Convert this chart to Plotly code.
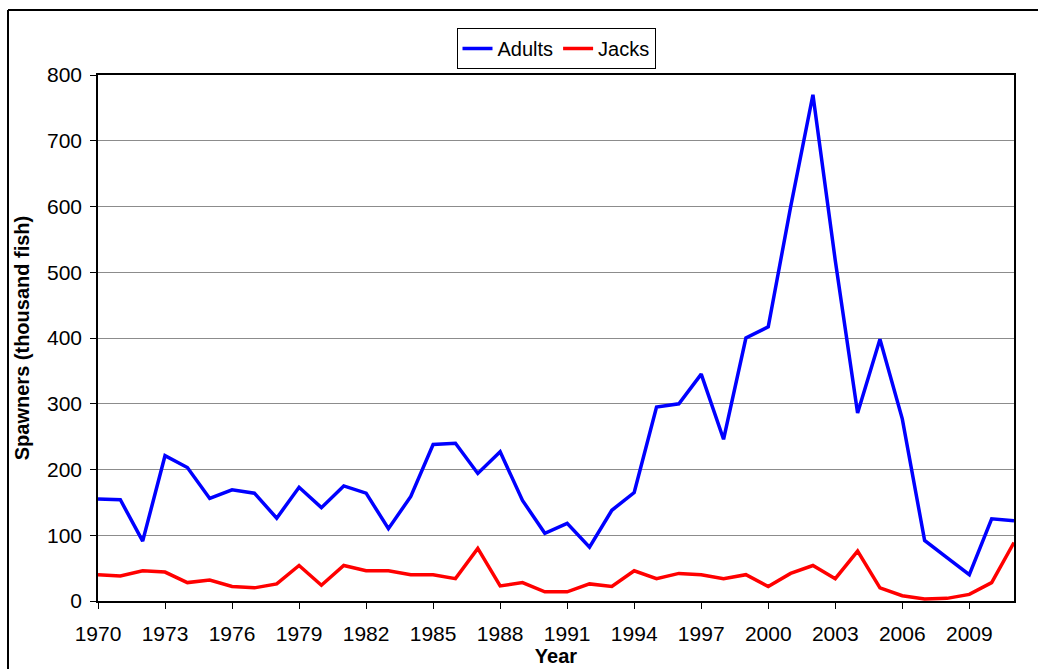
import plotly.graph_objects as go

years = list(range(1970, 2012))
adults = [155, 154, 91, 221, 203, 156, 169, 164, 126, 173, 142, 175, 164, 110, 159, 238,
          240, 194, 227, 153, 103, 118, 82, 138, 165, 295, 300, 345, 246, 400,
          417, 599, 770, 518, 286, 398, 277, 92, 66, 40, 125, 122]
jacks = [40, 38, 46, 44, 28, 32, 22, 20, 26, 54, 24, 54, 46, 46, 40, 40,
         34, 80, 23, 28, 14, 14, 26, 22, 46, 34, 42, 40, 34, 40,
         22, 42, 54, 34, 76, 20, 8, 3, 4, 10, 28, 89]
xticks = list(range(1970, 2010, 3))
yticks = list(range(0, 801, 100))

W, H = 1038, 669
L, R, T, B = 98, 1014, 75, 601

fig = go.Figure()
fig.add_trace(go.Scatter(x=years, y=adults, mode="lines", name="Adults",
                         line=dict(color="#0000FF", width=3.5)))
fig.add_trace(go.Scatter(x=years, y=jacks, mode="lines", name="Jacks",
                         line=dict(color="#FF0000", width=3.5)))

font = "Liberation Sans, Arial, sans-serif"
fig.update_layout(
    width=W, height=H,
    margin=dict(l=L, r=W - R, t=T, b=H - B, pad=0, autoexpand=False),
    paper_bgcolor="white", plot_bgcolor="white",
    font=dict(family=font, size=21, color="black"),
    showlegend=True,
    legend=dict(orientation="h", x=0.5, xanchor="center",
                y=(B - 28) / (B - T), yanchor="top",
                bordercolor="black", borderwidth=1, bgcolor="white",
                font=dict(size=20), itemwidth=30, tracegroupgap=0),
    xaxis=dict(range=[1970, 2011], tickvals=xticks, ticktext=[str(v) for v in xticks],
               showgrid=False, zeroline=False, showline=True, linecolor="black",
               linewidth=1.5, mirror=True, ticks="outside", ticklen=6,
               tickcolor="black", ticklabelstandoff=7, automargin=False,
               title=dict(text="<b>Year</b>", font=dict(size=20), standoff=0)),
    yaxis=dict(range=[0, 800], tickvals=yticks, showgrid=True, gridcolor="#8c8c8c",
               gridwidth=1, zeroline=False, showline=True, linecolor="black",
               linewidth=1.5, mirror=True, ticks="outside", ticklen=6,
               tickcolor="black", ticklabelstandoff=4, automargin=False,
               title=dict(text="<b>Spawners (thousand fish)</b>", font=dict(size=20),
                          standoff=12)),
)

pw, ph = R - L, B - T
x_left = (8 - L) / pw
x_right = (W + 20 - L) / pw
y_top = (B - 10) / ph
y_bot = (B - H - 20) / ph
fig.add_shape(type="line", xref="paper", yref="paper",
              x0=x_left, x1=x_right, y0=y_top, y1=y_top,
              line=dict(color="black", width=2), layer="below")
fig.add_shape(type="line", xref="paper", yref="paper",
              x0=x_left, x1=x_left, y0=y_top, y1=y_bot,
              line=dict(color="black", width=2), layer="below")

fig.write_html(
    "out.html",
    config={"displayModeBar": False},
    post_script="document.body.style.margin='0';document.body.style.overflow='hidden';"
                "document.documentElement.style.overflow='hidden';",
)
